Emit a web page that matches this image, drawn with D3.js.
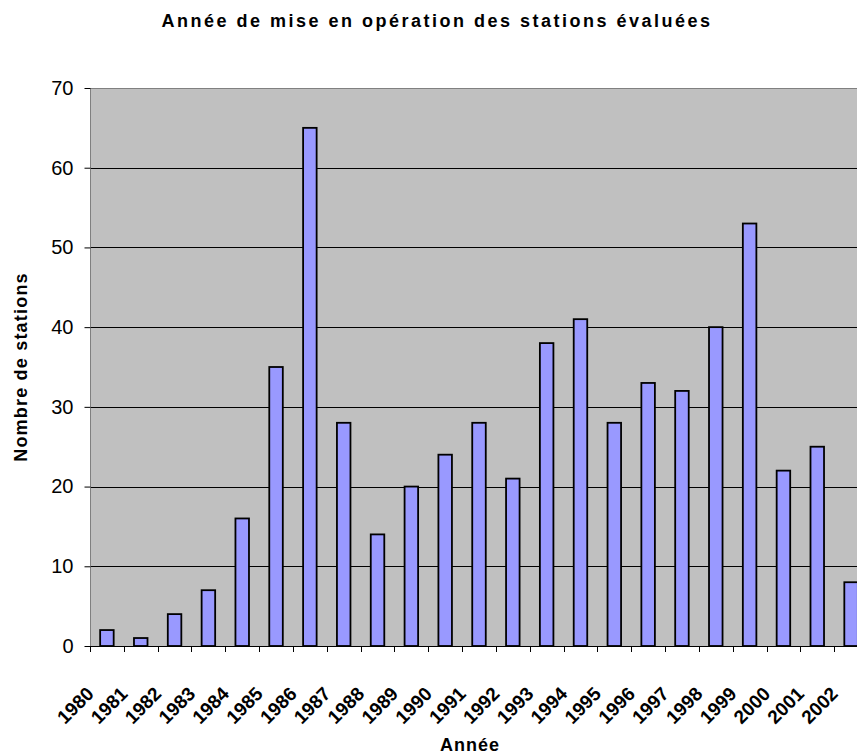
<!DOCTYPE html>
<html>
<head>
<meta charset="utf-8">
<script src="https://cdn.jsdelivr.net/npm/d3@7"></script>
<style>
  body { margin: 0; background: #fff; }
  svg { display: block; font-family: Arial, "Liberation Sans", sans-serif; }
</style>
</head>
<body>
<div id="chart"></div>
<script>
const years = ["1980","1981","1982","1983","1984","1985","1986","1987","1988","1989","1990","1991",
  "1992","1993","1994","1995","1996","1997","1998","1999","2000","2001","2002"];
const stations = [2, 1, 4, 7, 16, 35, 65, 28, 14, 20, 24, 28, 21, 38, 41, 28, 33, 32, 40, 53, 22, 25, 8];
const yTicks = [0, 10, 20, 30, 40, 50, 60, 70];

const data = years.map((y, i) => ({ year: y, value: stations[i] }));

const W = 857, H = 754;
const margin = { top: 88, left: 90 };
const plotW = 778, plotH = 558;

const svg = d3.select("#chart").append("svg")
    .attr("width", W)
    .attr("height", H);

const g = svg.append("g")
    .attr("transform", `translate(${margin.left}, ${margin.top})`);

// scales
const x = d3.scaleBand()
    .domain(years)
    .range([0, plotW])
    .paddingInner(0.6)
    .paddingOuter(0.3);

const step = x.step();
const bandStart = d => x(d) - step * 0.3;

const y = d3.scaleLinear()
    .domain([0, 70])
    .range([plotH, 0]);

// plot background
g.append("rect")
    .attr("x", 0.5)
    .attr("y", 0.5)
    .attr("width", plotW)
    .attr("height", plotH)
    .attr("fill", "#c0c0c0")
    .attr("stroke", "#808080")
    .attr("stroke-width", 1);

// gridlines
g.append("g")
  .selectAll("line")
  .data(yTicks.filter(d => d > 0 && d < 70))
  .join("line")
    .attr("x1", 0)
    .attr("x2", plotW)
    .attr("y1", d => Math.round(y(d)) + 0.5)
    .attr("y2", d => Math.round(y(d)) + 0.5)
    .attr("stroke", "#000")
    .attr("stroke-width", 1);

// bars
g.append("g")
  .selectAll("rect")
  .data(data)
  .join("rect")
    .attr("x", d => x(d.year))
    .attr("y", d => y(d.value))
    .attr("width", x.bandwidth())
    .attr("height", d => plotH - y(d.value))
    .attr("fill", "#9999ff")
    .attr("stroke", "#000")
    .attr("stroke-width", 1.8);

// y axis
const yAxis = d3.axisLeft(y)
    .tickValues(yTicks)
    .tickSize(6)
    .tickPadding(11);

g.append("g")
    .attr("transform", "translate(0.5, 0)")
    .call(yAxis)
    .call(s => s.select(".domain").attr("stroke", "#808080").attr("d", `M0,0V${plotH}`))
    .call(s => s.selectAll(".tick line").attr("stroke", "#000"))
    .call(s => s.selectAll(".tick text")
        .attr("font-size", "20px")
        .attr("font-family", "Arial, 'Liberation Sans', sans-serif")
        .attr("fill", "#000"));

// x axis: ticks at category boundaries
const xAx = g.append("g")
    .attr("transform", `translate(0, ${plotH})`);

xAx.append("line")
    .attr("x1", 0)
    .attr("x2", plotW)
    .attr("y1", 0.5)
    .attr("y2", 0.5)
    .attr("stroke", "#000");

xAx.selectAll(".tk")
  .data(years)
  .join("line")
    .attr("class", "tk")
    .attr("x1", d => Math.round(bandStart(d)) + 0.5)
    .attr("x2", d => Math.round(bandStart(d)) + 0.5)
    .attr("y1", 0)
    .attr("y2", 6)
    .attr("stroke", "#000");

xAx.selectAll(".lbl")
  .data(years)
  .join("text")
    .attr("class", "lbl")
    .attr("transform", d => `translate(${x(d) + x.bandwidth() / 2 - 12}, 49) rotate(-45)`)
    .attr("text-anchor", "end")
    .attr("font-size", "19px")
    .attr("font-weight", "bold")
    .attr("fill", "#000")
    .text(d => d);

// title
svg.append("text")
    .attr("x", 437)
    .attr("y", 27)
    .attr("text-anchor", "middle")
    .attr("font-size", "18px")
    .attr("font-weight", "bold")
    .attr("letter-spacing", "2.5px")
    .text("Année de mise en opération des stations évaluées");

// axis titles
svg.append("text")
    .attr("transform", "translate(27, 367) rotate(-90)")
    .attr("text-anchor", "middle")
    .attr("font-size", "18px")
    .attr("font-weight", "bold")
    .attr("letter-spacing", "1.2px")
    .text("Nombre de stations");

svg.append("text")
    .attr("x", 470)
    .attr("y", 751)
    .attr("text-anchor", "middle")
    .attr("font-size", "18px")
    .attr("font-weight", "bold")
    .attr("letter-spacing", "1px")
    .text("Année");
</script>
</body>
</html>
